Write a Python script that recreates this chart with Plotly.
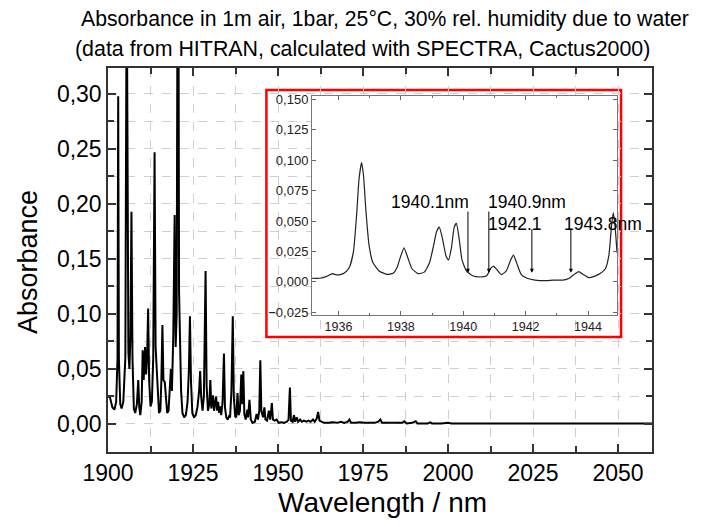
import plotly.graph_objects as go

# main spectrum (wavelength nm, absorbance)
main_nm = [1900.0, 1900.6, 1901.3, 1901.9, 1902.4, 1902.8, 1903.0, 1903.2, 1903.6, 1904.0,
           1904.5, 1905.1, 1905.5, 1905.8, 1906.0, 1906.3, 1906.6, 1906.9, 1907.2, 1907.6,
           1908.0, 1908.5, 1908.9, 1909.2, 1909.5, 1909.9, 1910.2, 1910.5, 1910.9, 1911.2,
           1911.5, 1911.8, 1912.1, 1912.5, 1912.9, 1913.3, 1913.7, 1914.0, 1914.3, 1914.6,
           1915.0, 1915.4, 1915.7, 1916.0, 1916.3, 1916.7, 1917.0, 1917.4, 1917.8, 1918.2,
           1918.5, 1918.8, 1919.2, 1919.6, 1919.9, 1920.2, 1920.6, 1920.9, 1921.2, 1921.5,
           1921.9, 1922.4, 1922.9, 1923.4, 1923.8, 1924.1, 1924.4, 1924.8, 1925.3, 1925.8,
           1926.3, 1926.8, 1927.1, 1927.4, 1927.8, 1928.2, 1928.7, 1929.0, 1929.4, 1929.8,
           1930.1, 1930.4, 1930.7, 1930.9, 1931.2, 1931.5, 1931.8, 1932.1, 1932.4, 1932.7,
           1933.0, 1933.3, 1933.7, 1934.1, 1934.4, 1934.8, 1935.2, 1935.6, 1935.9, 1936.3,
           1936.7, 1937.0, 1937.4, 1937.7, 1938.1, 1938.4, 1938.8, 1939.2, 1939.5, 1939.8,
           1940.1, 1940.5, 1941.0, 1941.2, 1941.6, 1942.0, 1942.5, 1943.2, 1943.7, 1944.1,
           1944.5, 1944.8, 1945.1, 1945.6, 1946.0, 1946.3, 1946.8, 1947.3, 1947.7, 1948.2,
           1948.5, 1949.0, 1949.6, 1950.2, 1951.0, 1951.8, 1952.6, 1953.1, 1953.5, 1953.8,
           1954.3, 1954.7, 1955.0, 1955.5, 1955.9, 1956.5, 1957.0, 1957.6, 1958.3, 1959.0,
           1959.6, 1960.3, 1960.8, 1961.4, 1961.8, 1962.2, 1962.8, 1963.5, 1965.0, 1966.0,
           1967.5, 1968.5, 1969.5, 1970.5, 1971.0, 1971.5, 1973.0, 1974.0, 1975.5, 1977.0,
           1978.5, 1979.5, 1980.1, 1980.6, 1982.0, 1984.0, 1986.5, 1987.2, 1987.8, 1989.5,
           1990.5, 1991.0, 1994.0, 1994.8, 1995.3, 1998.0, 2000.0, 2001.0, 2004.0, 2005.0,
           2006.0, 2010.0, 2060.0]
main_abs = [0.025, 0.024, 0.015, 0.013, 0.020, 0.060, 0.298, 0.060, 0.018, 0.014,
            0.020, 0.060, 0.420, 0.080, 0.065, 0.050, 0.080, 0.193, 0.060, 0.014,
            0.010, 0.018, 0.040, 0.015, 0.008, 0.020, 0.067, 0.040, 0.070, 0.045,
            0.060, 0.105, 0.040, 0.016, 0.020, 0.060, 0.247, 0.070, 0.050, 0.025,
            0.010, 0.012, 0.040, 0.090, 0.040, 0.038, 0.025, 0.010, 0.012, 0.030,
            0.050, 0.030, 0.080, 0.190, 0.070, 0.100, 0.600, 0.120, 0.065, 0.030,
            0.010, 0.006, 0.008, 0.020, 0.050, 0.098, 0.040, 0.010, 0.006, 0.008,
            0.015, 0.030, 0.048, 0.025, 0.012, 0.025, 0.139, 0.035, 0.012, 0.018,
            0.040, 0.014, 0.020, 0.026, 0.012, 0.022, 0.025, 0.012, 0.020, 0.010,
            0.016, 0.008, 0.020, 0.064, 0.015, 0.006, 0.004, 0.007, 0.006, 0.030,
            0.098, 0.025, 0.007, 0.006, 0.028, 0.008, 0.012, 0.045, 0.018, 0.048,
            0.009, 0.004, 0.013, 0.006, 0.022, 0.004, 0.001, 0.002, 0.009, 0.004,
            0.012, 0.058, 0.012, 0.006, 0.015, 0.004, 0.003, 0.012, 0.004, 0.019,
            0.004, 0.003, 0.004, 0.001, 0.0015, 0.001, 0.002, 0.004, 0.033, 0.003,
            0.002, 0.008, 0.002, 0.006, 0.002, 0.004, 0.002, 0.003, 0.002, 0.003,
            0.002, 0.004, 0.002, 0.005, 0.011, 0.003, 0.002, 0.001, 0.001, 0.0015,
            0.001, 0.002, 0.001, 0.002, 0.004, 0.001, 0.001, 0.0015, 0.001, 0.001,
            0.001, 0.002, 0.004, 0.001, 0.001, 0.001, 0.001, 0.0025, 0.0005, 0.001,
            0.0025, 0.0005, 0.0005, 0.0015, 0.0005, 0.0005, 0.001, 0.0005, 0.0005, 0.001,
            0.0005, 0.0003, 0.0003]

# zoomed part 1935-1945 nm
inset_nm = [1935.15, 1935.40, 1935.62, 1935.80, 1935.90, 1936.05, 1936.20, 1936.35, 1936.48,
            1936.58, 1936.66, 1936.74, 1936.80, 1936.88, 1936.98, 1937.10, 1937.30, 1937.55,
            1937.75, 1937.88, 1937.98, 1938.10, 1938.22, 1938.35, 1938.55, 1938.75, 1938.92,
            1939.05, 1939.14, 1939.23, 1939.33, 1939.45, 1939.53, 1939.62, 1939.71, 1939.78,
            1939.86, 1939.96, 1940.10, 1940.30, 1940.55, 1940.75, 1940.88, 1940.97, 1941.08,
            1941.22, 1941.38, 1941.52, 1941.61, 1941.72, 1941.86, 1942.05, 1942.30, 1942.60,
            1942.90, 1943.20, 1943.40, 1943.55, 1943.70, 1943.85, 1944.02, 1944.20, 1944.40,
            1944.56, 1944.67, 1944.75, 1944.81, 1944.87, 1944.93]
inset_abs = [0.003, 0.003, 0.0045, 0.0068, 0.006, 0.006, 0.0075, 0.012, 0.025,
             0.055, 0.085, 0.098, 0.088, 0.058, 0.030, 0.016, 0.009, 0.0062,
             0.007, 0.012, 0.020, 0.028, 0.020, 0.011, 0.0068, 0.008, 0.016,
             0.030, 0.041, 0.045, 0.036, 0.021, 0.018, 0.028, 0.045, 0.048,
             0.037, 0.018, 0.009, 0.005, 0.004, 0.005, 0.011, 0.013, 0.010,
             0.006, 0.009, 0.018, 0.022, 0.015, 0.006, 0.003, 0.0015, 0.001,
             0.0015, 0.0015, 0.003, 0.006, 0.0085, 0.006, 0.0035, 0.0045, 0.007,
             0.011, 0.022, 0.045, 0.057, 0.045, 0.024]

# arrow labels in the inset
arrow_nm = [1940.15, 1940.82, 1942.2, 1943.45]
arrow_text = ["1940.1nm", "1940.9nm", "1942.1", "1943.8nm"]

FONT = "Liberation Sans, Arial, sans-serif"
GRID = "#cfcfcf"
FRAME = "#333333"
PAGE_PAD = 8  # the page body adds 8px around the figure

fig = go.Figure()
fig.add_trace(go.Scatter(x=main_nm, y=main_abs, mode="lines",
                         line=dict(color="black", width=2), showlegend=False))
fig.add_trace(go.Scatter(x=inset_nm, y=inset_abs, mode="lines", xaxis="x2", yaxis="y2",
                         line=dict(color="#222222", width=1.2, shape="spline", smoothing=0.5),
                         showlegend=False))

axis_main = dict(ticks="inside", ticklen=8, tickwidth=1.5, tickcolor=FRAME,
                 showline=True, linecolor=FRAME, linewidth=1.5, mirror="ticks",
                 showgrid=True, gridcolor=GRID, griddash="dash", gridwidth=1,
                 zeroline=False, tickfont=dict(size=23, color="black", family=FONT))

W, H = 709 - PAGE_PAD, 527 - PAGE_PAD
fig.update_layout(
    width=W, height=H, autosize=False,
    margin=dict(l=108 - PAGE_PAD, r=W - (652 - PAGE_PAD), t=68 - PAGE_PAD, b=H - (452 - PAGE_PAD)),
    paper_bgcolor="white", plot_bgcolor="white",
    separators=",.",
    font=dict(family=FONT, color="black"),
    xaxis=dict(axis_main, range=[1900, 2060], tick0=1900, dtick=25,
               minor=dict(dtick=12.5, ticks="inside", ticklen=6, tickcolor=FRAME,
                          showgrid=True, gridcolor=GRID, griddash="dash")),
    yaxis=dict(axis_main, range=[-0.0255, 0.3236], tick0=0, dtick=0.05, tickformat=".2f",
               minor=dict(dtick=0.025, ticks="inside", ticklen=6, tickcolor=FRAME,
                          showgrid=True, gridcolor=GRID, griddash="dash")),
    xaxis2=dict(domain=[0.375, 0.9357], anchor="y2", range=[1935.15, 1944.93],
                tick0=1936, dtick=2, ticks="inside", ticklen=4, tickcolor="#666",
                showline=True, linecolor="#777", linewidth=1, mirror="ticks",
                showgrid=False, zeroline=False,
                minor=dict(dtick=1, ticks="inside", ticklen=2, tickcolor="#666"),
                tickfont=dict(size=12.5, color="#222", family=FONT)),
    yaxis2=dict(domain=[0.3568, 0.927], anchor="x2", range=[-0.0272, 0.1527],
                tick0=0, dtick=0.025, tickformat=".3f", ticks="inside", ticklen=4,
                tickcolor="#666", showline=True, linecolor="#777", linewidth=1,
                mirror="ticks", showgrid=False, zeroline=False,
                tickfont=dict(size=13, color="#222", family=FONT)),
    shapes=[dict(type="rect", xref="x", yref="y", layer="below",
                 x0=1946.59, x1=2050.9, y0=0.0791, y1=0.3036,
                 fillcolor="white", line=dict(color="red", width=2.5))],
)

# annotation helpers: page pixel -> paper coords of the main plot area
def px(x):
    return (x - 108) / 544


def py(y):
    return (452 - y) / 384


ann = [
    dict(text="Absorbance in 1m air, 1bar, 25°C, 30% rel. humidity due to water",
         xref="paper", yref="paper", x=px(385), y=py(19),
         xanchor="center", yanchor="middle", showarrow=False, font=dict(size=21.2)),
    dict(text="(data from HITRAN, calculated with SPECTRA, Cactus2000)",
         xref="paper", yref="paper", x=px(362), y=py(49),
         xanchor="center", yanchor="middle", showarrow=False, font=dict(size=21.4)),
    dict(text="Wavelength / nm", xref="paper", yref="paper", x=px(382), y=py(502),
         xanchor="center", yanchor="middle", showarrow=False, font=dict(size=28)),
    dict(text="Absorbance", xref="paper", yref="paper", x=px(28), y=py(262),
         xanchor="center", yanchor="middle", textangle=-90, showarrow=False,
         font=dict(size=27)),
]

# labels and arrows inside the inset
label_pos = [(1938.93, 0.0656, "center"), (1942.04, 0.0656, "center"),
             (1941.66, 0.0475, "center"), (1943.16, 0.0475, "left")]
tails = [0.059, 0.059, 0.0445, 0.0445]
for nm, txt, (lx, ly, anc), tail in zip(arrow_nm, arrow_text, label_pos, tails):
    ann.append(dict(text=txt, xref="x2", yref="y2", x=lx, y=ly, xanchor=anc,
                    yanchor="middle", showarrow=False, font=dict(size=17.5, color="black")))
    ann.append(dict(text="", xref="x2", yref="y2", x=nm, y=0.0075,
                    axref="x2", ayref="y2", ax=nm, ay=tail, showarrow=True,
                    arrowhead=2, arrowsize=0.8, arrowwidth=1, arrowcolor="black"))

fig.update_layout(annotations=ann)

fig.write_html("out.html")
